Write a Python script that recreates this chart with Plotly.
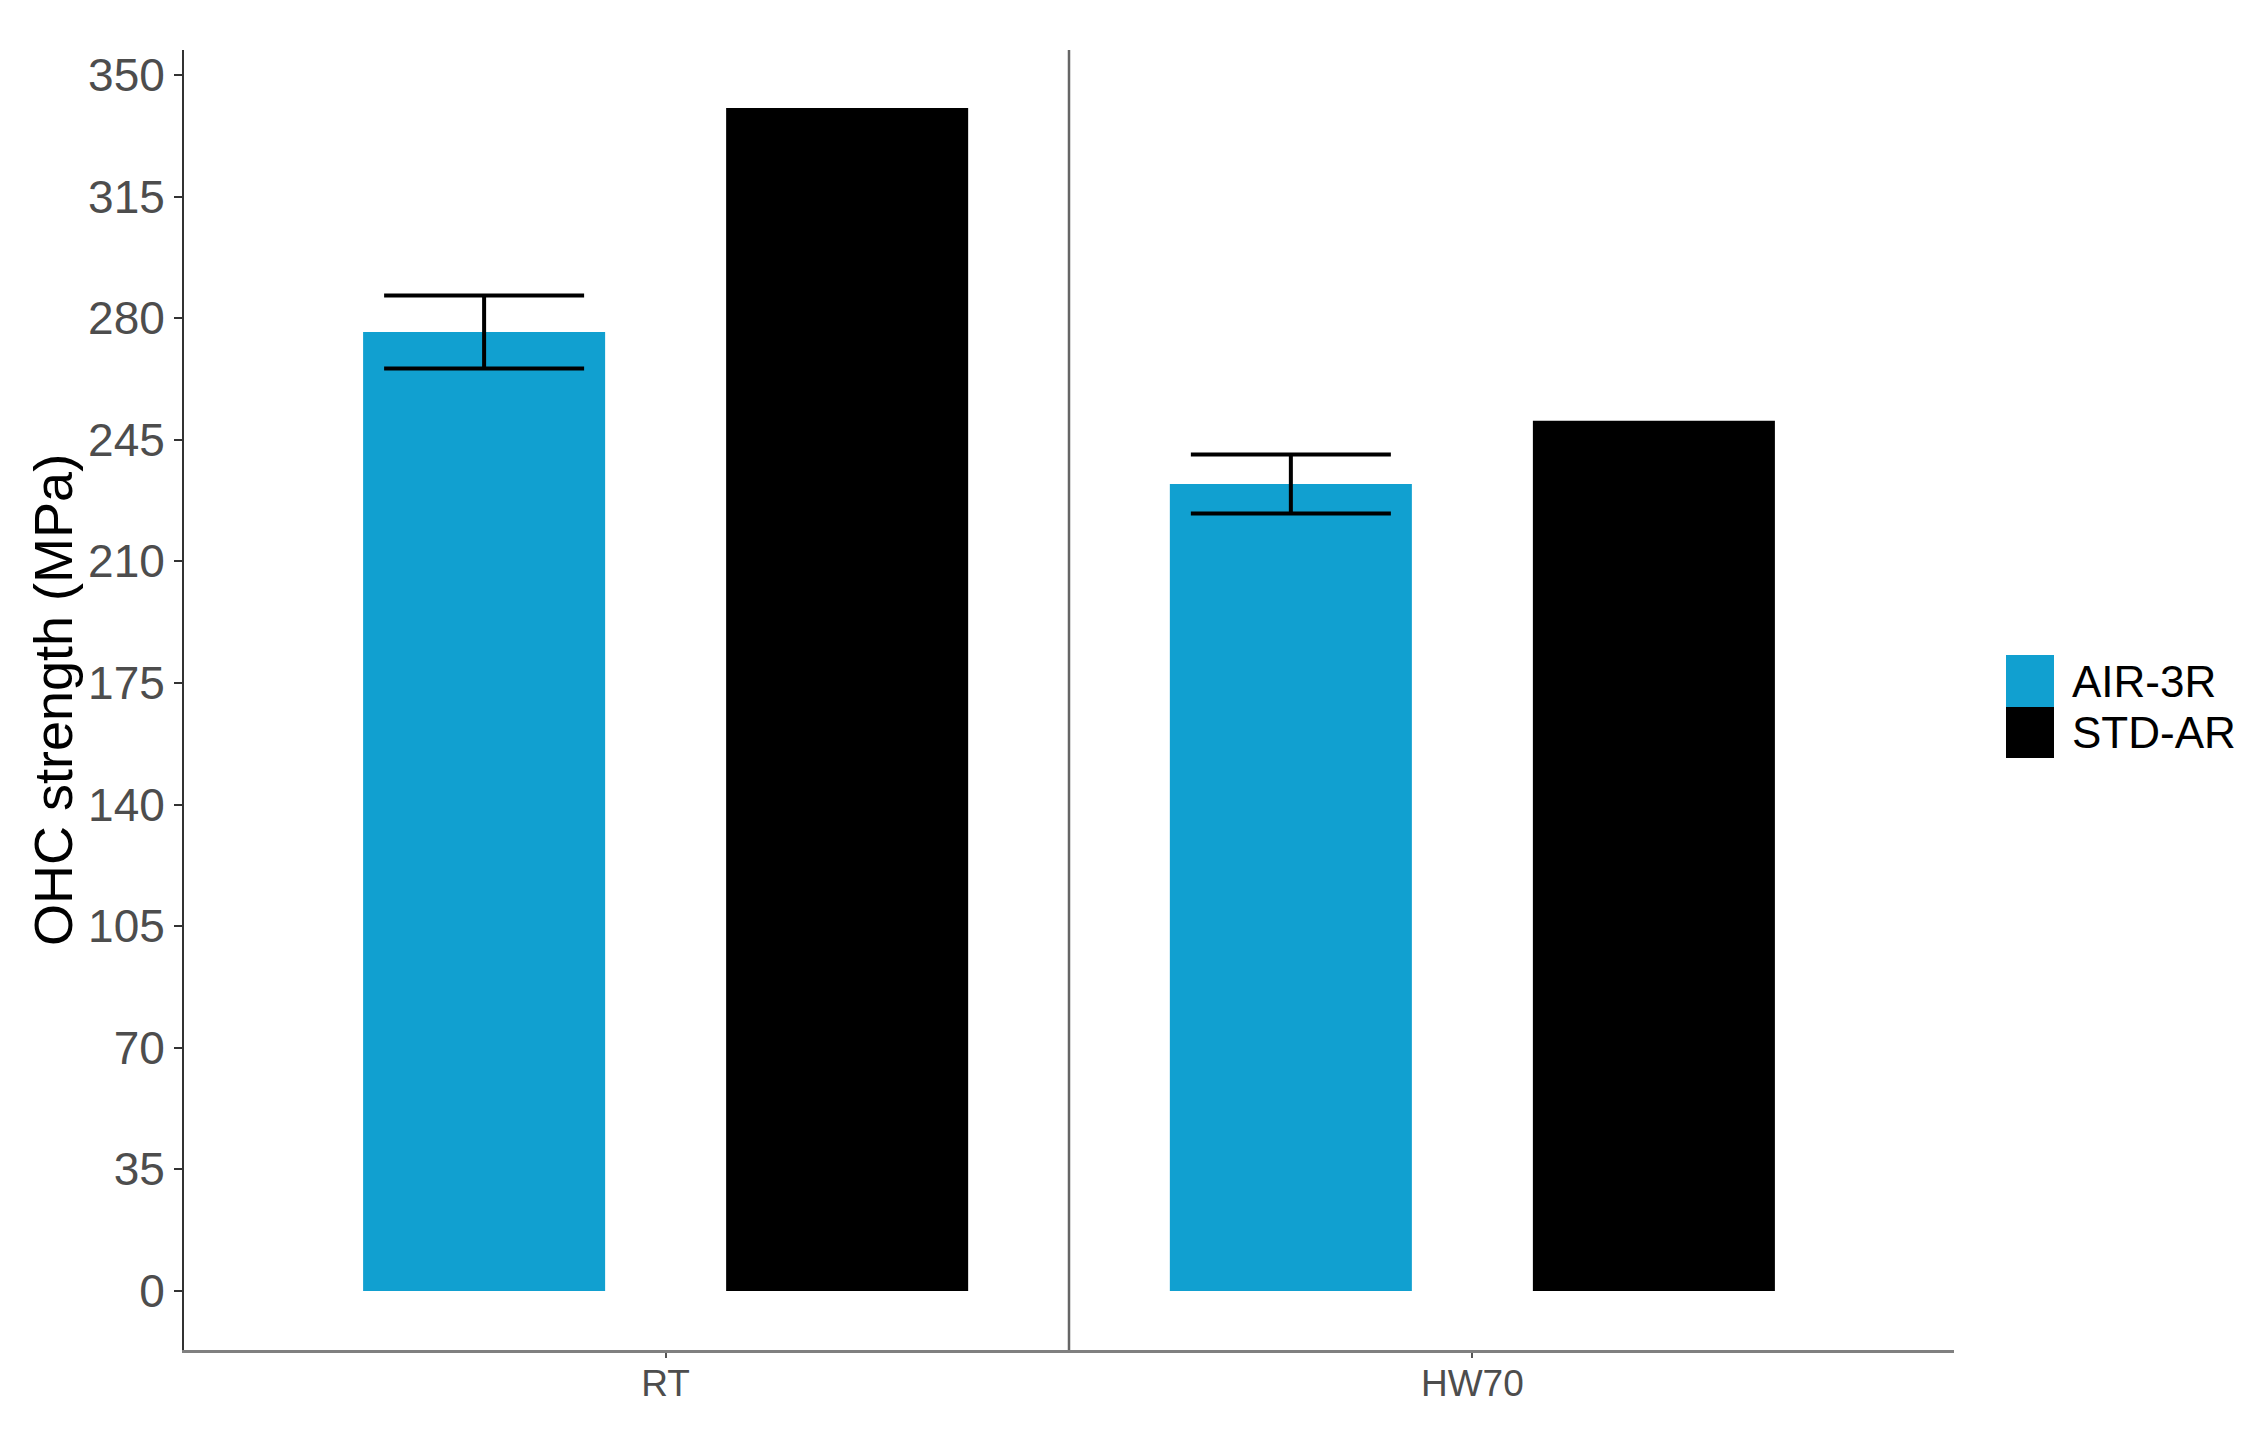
import plotly.graph_objects as go

categories = ["RT", "HW70"]
series_names = ["AIR-3R", "STD-AR"]
air3r_values = [276.0, 232.3]
air3r_errors = [10.5, 8.5]
stdar_values = [340.5, 250.5]
y_tick_values = [0, 35, 70, 105, 140, 175, 210, 245, 280, 315, 350]
colors = {"AIR-3R": "#11A0D0", "STD-AR": "#000000"}

OFF = 8  # default page body margin
W, H = 2260 - OFF, 1444 - OFF
L, T = 184 - OFF, 50 - OFF
pw, ph = 1770, 1300
R, B = W - L - pw, H - T - ph

def px(xp):
    return (xp - OFF - L) / pw

def py(yp):
    return (T + ph - (yp - OFF)) / ph

fig = go.Figure()
fig.add_trace(go.Bar(
    name="AIR-3R", x=categories, y=air3r_values,
    marker=dict(color=colors["AIR-3R"], line=dict(width=0)),
    error_y=dict(type="data", array=air3r_errors, visible=True,
                 color="#000000", thickness=4, width=100),
    showlegend=False,
))
fig.add_trace(go.Bar(
    name="STD-AR", x=categories, y=stdar_values,
    marker=dict(color=colors["STD-AR"], line=dict(width=0)),
    showlegend=False,
))

font_family = "Liberation Sans, Arial, sans-serif"

fig.update_layout(
    width=W, height=H,
    margin=dict(l=L, r=R, t=T, b=B, autoexpand=False),
    paper_bgcolor="white", plot_bgcolor="white",
    barmode="group", bargap=0.1, bargroupgap=1/3,
    font=dict(family=font_family),
)
fig.update_xaxes(
    type="category", categoryorder="array", categoryarray=categories,
    range=[-0.597, 1.597],
    showline=True, linecolor="#808080", linewidth=3,
    ticks="outside", ticklen=5, tickwidth=2, tickcolor="#555555",
    ticklabelstandoff=-6,
    tickfont=dict(size=37, color="#4D4D4D", family=font_family),
    showgrid=False, zeroline=False,
)
fig.update_yaxes(
    range=[-17.0, 357.2],
    tickvals=y_tick_values, ticktext=[str(v) for v in y_tick_values],
    showline=True, linecolor="#333333", linewidth=2,
    ticks="outside", ticklen=8, tickwidth=2, tickcolor="#333333",
    tickfont=dict(size=46, color="#4D4D4D", family=font_family),
    showgrid=False, zeroline=False,
)

# separator between the two condition groups
fig.add_shape(type="line", xref="x", yref="paper", x0=0.5, x1=0.5, y0=0, y1=1,
              line=dict(color="#666666", width=2.5))

# y-axis title
fig.add_annotation(text="OHC strength (MPa)", xref="paper", yref="paper",
                   x=px(53), y=0.5, xanchor="center", yanchor="middle",
                   textangle=-90, showarrow=False,
                   font=dict(size=54, color="#000000", family=font_family))

# custom legend
key_x0, key_x1 = px(2006), px(2054)
key_rows = [(655, 707), (707, 758)]
for name, (ytop, ybot) in zip(series_names, key_rows):
    fig.add_shape(type="rect", xref="paper", yref="paper",
                  x0=key_x0, x1=key_x1, y0=py(ybot), y1=py(ytop),
                  fillcolor=colors[name], line=dict(width=0))
    fig.add_annotation(text=name, xref="paper", yref="paper",
                       x=px(2070), y=py((ytop + ybot) / 2),
                       xanchor="left", yanchor="middle", showarrow=False,
                       font=dict(size=44, color="#000000", family=font_family))

fig.write_html("out.html")
